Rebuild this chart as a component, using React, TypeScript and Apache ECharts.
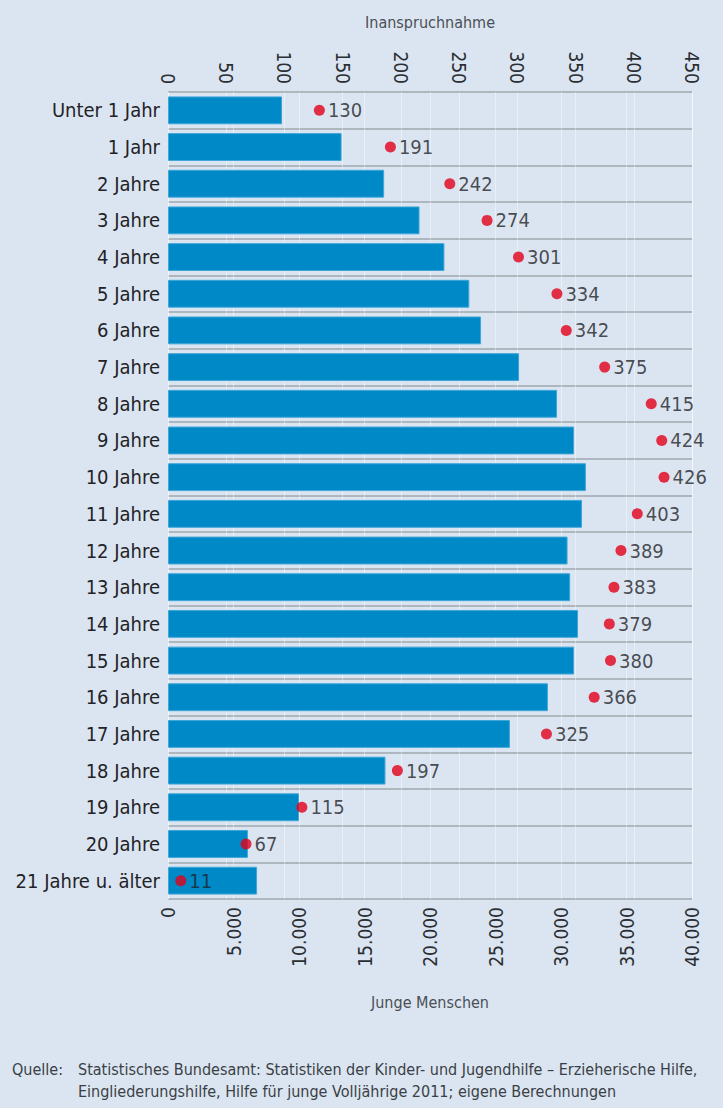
import React, { useEffect, useRef } from "react";
import * as echarts from "echarts";

const categories = [
  "Unter 1 Jahr", "1 Jahr", "2 Jahre", "3 Jahre", "4 Jahre", "5 Jahre", "6 Jahre",
  "7 Jahre", "8 Jahre", "9 Jahre", "10 Jahre", "11 Jahre", "12 Jahre", "13 Jahre",
  "14 Jahre", "15 Jahre", "16 Jahre", "17 Jahre", "18 Jahre", "19 Jahre", "20 Jahre",
  "21 Jahre u. älter",
];
const jungeMenschen = [
  8700, 13250, 16500, 19200, 21100, 23000, 23900, 26800, 29700, 31000, 31900,
  31600, 30500, 30700, 31300, 31000, 29000, 26100, 16600, 10000, 6100, 6800,
];
const inanspruchnahme = [
  130, 191, 242, 274, 301, 334, 342, 375, 415, 424, 426, 403, 389, 383, 379, 380,
  366, 325, 197, 115, 67, 11,
];
const bottomTicks = { min: 0, max: 40000, interval: 5000 };
const topTicks = { min: 0, max: 450, interval: 50 };

const FONT = "'DejaVu Sans Condensed', 'Liberation Sans', sans-serif";

export default function App() {
  const ref = useRef<HTMLDivElement>(null);
  useEffect(() => {
    document.body.style.margin = "0";
    const chart = echarts.init(ref.current!, null, { renderer: "svg" });
    chart.setOption({
      animation: false,
      backgroundColor: "#dbe5f1",
      textStyle: { fontFamily: FONT },
      grid: { left: 168, right: 31, top: 92, bottom: 209, containLabel: false },
      xAxis: [
        {
          type: "value",
          position: "bottom",
          ...bottomTicks,
          name: "Junge Menschen",
          nameLocation: "middle",
          nameGap: 95,
          nameTextStyle: { fontFamily: FONT, fontSize: 16, color: "#4a4f55" },
          axisLine: { show: false },
          axisTick: { show: false },
          axisLabel: {
            rotate: 90,
            fontFamily: FONT,
            fontSize: 19,
            color: "#2a2e33",
            margin: 8,
            formatter: (v: number) => v.toLocaleString("de-DE"),
          },
          splitLine: { show: true, lineStyle: { color: "rgba(255,255,255,0.4)", width: 1 } },
        },
        {
          type: "value",
          position: "top",
          ...topTicks,
          name: "Inanspruchnahme",
          nameLocation: "middle",
          nameGap: 62,
          nameTextStyle: { fontFamily: FONT, fontSize: 16, color: "#4a4f55" },
          axisLine: { show: false },
          axisTick: { show: false },
          axisLabel: {
            rotate: 90,
            fontFamily: FONT,
            fontSize: 19,
            color: "#2a2e33",
            margin: 8,
          },
          splitLine: { show: true, lineStyle: { color: "rgba(255,255,255,0.4)", width: 1 } },
        },
      ],
      yAxis: {
        type: "category",
        data: categories,
        inverse: true,
        axisLine: { show: false },
        axisTick: { show: false },
        axisLabel: { fontFamily: FONT, fontSize: 20, color: "#1f2327", margin: 8 },
        splitLine: { show: true, lineStyle: { color: "#aeb6be", width: 2 } },
      },
      series: [
        {
          type: "bar",
          xAxisIndex: 0,
          data: jungeMenschen,
          barCategoryGap: "24%",
          itemStyle: { color: "#0089c7", borderColor: "#3fa6d8", borderWidth: 1 },
          z: 2,
        },
        {
          type: "scatter",
          xAxisIndex: 1,
          data: inanspruchnahme,
          symbol: "circle",
          symbolSize: 11,
          itemStyle: { color: "#e2001a" },
          label: {
            show: true,
            position: "right",
            distance: 3,
            fontFamily: FONT,
            fontSize: 20,
            color: "#1f2327",
          },
          z: 3,
        },
      ],
      graphic: [
        {
          type: "text",
          left: 12,
          top: 1058,
          style: { text: "Quelle:", font: `16px ${FONT}`, fill: "#3a3f45", lineHeight: 22 },
        },
        {
          type: "text",
          left: 78,
          top: 1058,
          style: {
            text:
              "Statistisches Bundesamt: Statistiken der Kinder- und Jugendhilfe – Erzieherische Hilfe,\nEingliederungshilfe, Hilfe für junge Volljährige 2011; eigene Berechnungen",
            font: `16px ${FONT}`,
            fill: "#3a3f45",
            lineHeight: 22,
          },
        },
      ],
    });
    return () => chart.dispose();
  }, []);
  return <div ref={ref} style={{ width: 723, height: 1108 }} />;
}
